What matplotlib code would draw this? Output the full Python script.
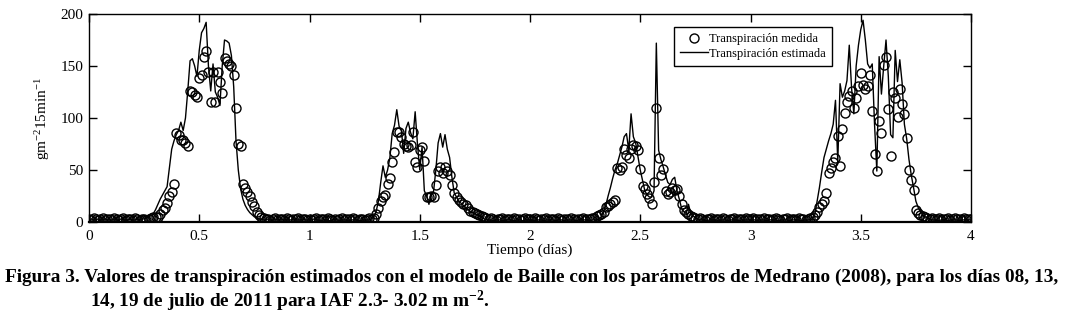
import numpy as np
import matplotlib
matplotlib.use("Agg")
import matplotlib.pyplot as plt

# ---- data: 15-min steps, 96 per day ----
est_day0 = [2,3,2,2,3,2,2,3,2,2,2,3,
            2,2,3,2,2,2,3,2,2,3,2,3,
            3,4,5,6,8,12,17,22,26,30,34,52,
            70,78,84,88,96,88,100,126,155,157,150,140,
            165,182,186,192,150,126,152,125,120,112,150,175,
            174,172,160,130,78,50,32,22,16,12,9,7,
            5,4,3,3,2,2,3,2,2,2,3,2,
            2,3,2,2,2,3,2,2,2,3,2,2]
meas_day0 = [3,2,4,3,2,3,4,2,3,3,2,4,
             3,2,3,4,2,3,3,2,4,3,2,3,
             3,2,3,4,5,5,5,8,12,13,18,25,
             29,37,86,84,79,79,76,73,126,125,122,120,
             138,141,159,164,144,115,144,115,144,135,124,158,
             155,152,150,141,110,75,73,37,33,29,25,19,
             15,10,7,5,4,3,3,2,3,4,2,3,
             3,2,4,3,2,3,3,4,2,3,3,2]
est_day1 = [2,2,3,2,2,1,2,2,2,1,2,2,
            2,1,2,2,2,1,2,2,2,2,1,2,
            2,2,2,3,5,10,20,38,54,43,50,62,
            85,93,108,92,88,66,90,96,86,80,106,75,
            50,72,30,25,17,28,29,50,76,85,72,84,
            70,62,43,28,24,20,18,16,14,12,10,9,
            8,7,6,4,3,2,2,2,1,2,2,2,
            1,2,2,2,2,1,2,2,2,1,2,2]
meas_day1 = [3,2,3,4,2,3,3,2,4,3,2,3,
             2,3,4,2,3,3,2,4,3,2,3,3,
             2,3,4,3,4,8,13,20,24,26,37,42,
             58,67,87,87,82,75,73,72,74,87,58,53,
             69,72,59,24,24,25,24,36,49,53,47,53,
             49,45,36,28,24,21,19,17,16,13,11,10,
             9,8,7,6,5,4,3,4,3,2,3,3,
             4,2,3,3,2,4,3,3,2,3,4,3]
est_day2 = [2,2,1,2,2,2,1,2,2,2,2,1,
            2,2,2,1,2,2,2,2,1,2,2,2,
            2,2,1,2,2,2,3,5,10,16,25,33,
            42,50,56,64,72,82,85,69,104,82,76,63,
            50,40,30,26,24,24,30,172,69,60,53,45,
            38,36,41,43,30,22,13,10,8,17,8,6,
            4,3,2,2,2,1,2,2,2,2,1,2,
            2,2,1,2,2,2,2,1,2,2,2,2]
meas_day2 = [3,2,4,3,2,3,3,4,2,3,3,2,
             4,3,2,3,3,2,4,3,2,3,3,4,
             2,3,3,4,4,6,7,8,10,14,15,17,
             19,21,52,50,53,70,64,62,70,74,73,69,
             51,35,32,27,23,17,38,110,62,45,51,30,
             27,29,33,31,32,25,17,12,10,8,6,5,
             4,3,4,3,2,3,3,4,2,3,3,2,
             4,3,2,3,3,4,2,3,3,2,4,3]
est_day3 = [2,2,2,1,2,2,2,1,2,2,2,2,
            1,2,2,2,2,1,2,2,2,2,1,2,
            2,2,2,3,7,20,33,48,62,70,78,85,
            94,117,58,133,120,126,136,170,129,104,150,170,
            185,194,175,152,148,152,94,49,159,123,150,175,
            140,84,81,165,135,156,134,94,80,60,45,33,
            20,14,10,7,5,4,3,2,2,2,1,2,
            2,2,1,2,2,2,2,1,2,2,2,2, 2]
meas_day3 = [3,4,2,3,3,2,4,3,3,2,3,4,
             3,2,3,3,4,2,3,3,2,4,3,3,
             2,3,4,5,7,10,14,17,20,28,47,52,
             58,62,83,54,89,105,115,121,126,110,119,131,
             143,132,128,131,141,107,65,49,97,86,151,159,
             109,63,125,119,101,128,113,104,81,50,40,31,
             12,9,7,6,5,4,3,4,3,3,4,2,
             3,3,4,2,3,4,3,3,2,4,3,3, 3]

xticks = [0, 0.5, 1, 1.5, 2, 2.5, 3, 3.5, 4]
xticklabels = ["0", "0.5", "1", "1.5", "2", "2.5", "3", "3.5", "4"]
yticks = [0, 50, 100, 150, 200]

est = np.array(est_day0 + est_day1 + est_day2 + est_day3, dtype=float)
meas = np.array(meas_day0 + meas_day1 + meas_day2 + meas_day3, dtype=float)
t_est = np.arange(len(est)) / 96.0
t_meas = np.arange(len(meas)) / 96.0

plt.rcParams['font.family'] = ['Liberation Serif', 'DejaVu Serif']
plt.rcParams['mathtext.fontset'] = 'custom'
plt.rcParams['mathtext.rm'] = 'Liberation Serif'
plt.rcParams['mathtext.it'] = 'Liberation Serif:italic'
plt.rcParams['mathtext.bf'] = 'Liberation Serif:bold'

fig = plt.figure(figsize=(10.71, 3.16), dpi=100)
ax = fig.add_axes([89/1071, 1-222/316, (971-89)/1071, (222-14)/316])

ax.plot(t_meas, meas, linestyle='none', marker='o', markersize=6.5,
        markerfacecolor='none', markeredgecolor='black', markeredgewidth=1.0,
        label='Transpiración medida')
ax.plot(t_est, est, color='black', linewidth=1.0, label='Transpiración estimada')

ax.set_xlim(0, 4)
ax.set_ylim(0, 200)
ax.set_xticks(xticks)
ax.set_xticklabels(xticklabels)
ax.set_yticks(yticks)
ax.tick_params(direction='in', length=6, width=1, top=True, right=True,
               labelsize=11)
ax.tick_params(axis='x', pad=6)
ax.tick_params(axis='y', pad=4)
for s in ax.spines.values():
    s.set_linewidth(1.0)
ax.spines['bottom'].set_linewidth(1.6)

ax.set_xlabel('Tiempo (días)', fontsize=11, labelpad=0)
ax.set_ylabel(r'gm$^{-2}$15min$^{-1}$', fontsize=11, labelpad=6)

leg = ax.legend(loc='upper right', bbox_to_anchor=((832-89)/882, (222-27)/208),
                fontsize=9, frameon=True, fancybox=False, framealpha=1,
                edgecolor='black', borderpad=0.5, handlelength=2.2,
                handletextpad=0.1, labelspacing=0.2, borderaxespad=0)
leg.get_frame().set_linewidth(1.0)

fig.text(5/1071, 1-277/316,
         'Figura 3. Valores de transpiración estimados con el modelo de Baille con los parámetros de Medrano (2008), para los días 08, 13,',
         fontsize=13.9, fontweight='bold', va='center', ha='left')
fig.text(90/1071, 1-301/316,
         r'14, 19 de julio de 2011 para IAF 2.3- 3.02 m m$^{\mathbf{-2}}$.',
         fontsize=13.9, fontweight='bold', va='center', ha='left')

fig.savefig('out.png', dpi=100)
